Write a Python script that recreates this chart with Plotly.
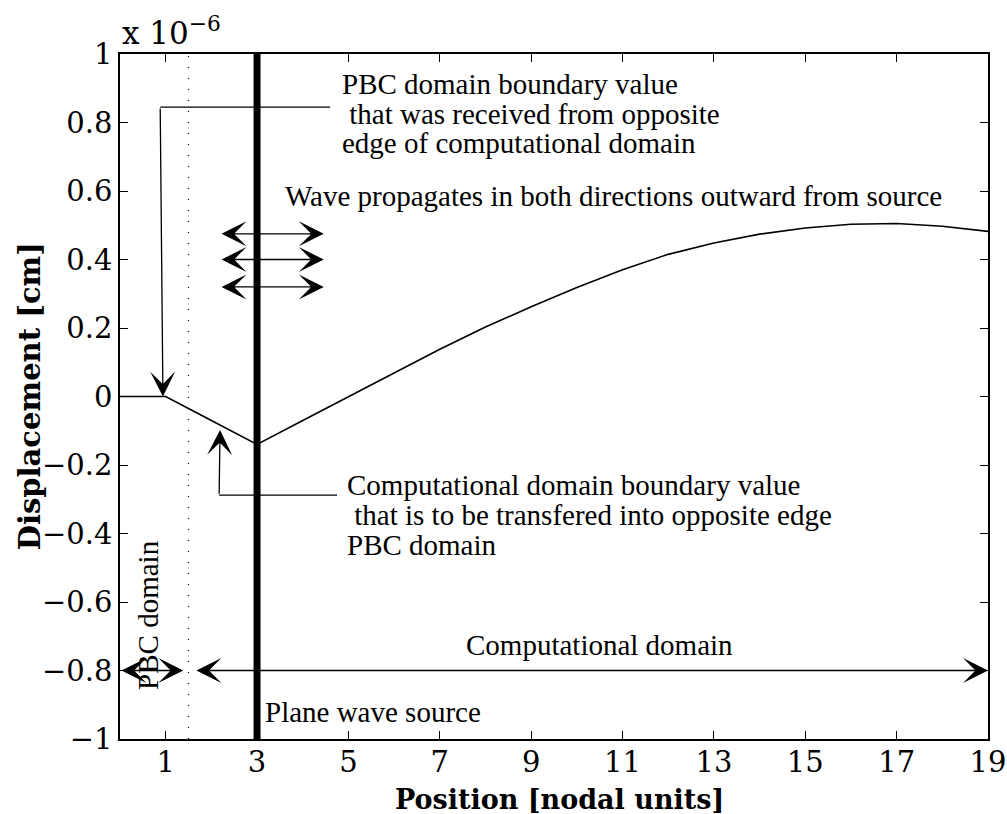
import plotly.graph_objects as go

# Nodal displacement (in units of 1e-6 cm)
position = list(range(0, 20))
displacement = [0.0, 0.0, -0.07, -0.14, -0.07, 0.0, 0.07, 0.138, 0.203, 0.262,
                0.318, 0.370, 0.415, 0.448, 0.474, 0.492, 0.503, 0.505, 0.497, 0.482]

x_ticks = [1, 3, 5, 7, 9, 11, 13, 15, 17, 19]
y_ticks = [-1, -0.8, -0.6, -0.4, -0.2, 0, 0.2, 0.4, 0.6, 0.8, 1]
y_ticktext = ["\u22121", "\u22120.8", "\u22120.6", "\u22120.4", "\u22120.2", "0",
              "0.2", "0.4", "0.6", "0.8", "1"]

source_x = 3
pbc_boundary_x = 1.5
wave_arrow_y = [0.475, 0.40, 0.32]
wave_arrow_span = [2.19, 4.46]

SERIF = "Liberation Serif, Times New Roman, serif"
WIDE_SERIF = "DejaVu Serif, serif"
TXT = dict(family=SERIF, size=29, color="black")

fig = go.Figure()

# displacement curve
fig.add_trace(go.Scatter(x=position, y=displacement, mode="lines",
                         line=dict(color="black", width=1.6), showlegend=False))
# plane wave source
fig.add_trace(go.Scatter(x=[source_x, source_x], y=[-1, 1], mode="lines",
                         line=dict(color="black", width=7), showlegend=False))
# PBC / computational domain boundary
fig.add_trace(go.Scatter(x=[pbc_boundary_x, pbc_boundary_x], y=[-1, 1], mode="lines",
                         line=dict(color="black", width=1.2, dash="1px,10px"),
                         showlegend=False))
# leader lines for the callouts
fig.add_trace(go.Scatter(x=[0.88, 4.6], y=[0.845, 0.845], mode="lines",
                         line=dict(color="black", width=1.3), showlegend=False))
fig.add_trace(go.Scatter(x=[2.17, 4.75], y=[-0.288, -0.288], mode="lines",
                         line=dict(color="black", width=1.3), showlegend=False))

annotations = []
HEAD = 3.2


def arrow(x0, y0, x1, y1, both=False):
    a = dict(x=x1, y=y1, ax=x0, ay=y0, xref="x", yref="y", axref="x", ayref="y",
             text="", showarrow=True, arrowhead=3, arrowsize=HEAD, arrowwidth=1.3,
             arrowcolor="black", standoff=0, startstandoff=0)
    if both:
        a.update(arrowside="end+start", startarrowhead=3, startarrowsize=HEAD)
    annotations.append(a)


arrow(0.88, 0.845, 0.94, 0.0)
arrow(2.17, -0.288, 2.19, -0.098)
for yy in wave_arrow_y:
    arrow(wave_arrow_span[0], yy, wave_arrow_span[1], yy, both=True)
arrow(0.0, -0.8, 1.385, -0.8, both=True)
arrow(1.64, -0.8, 19.0, -0.8, both=True)


def label(x, y, text, anchor="left", angle=0, font=TXT):
    annotations.append(dict(x=x, y=y, xref="x", yref="y", text=text, showarrow=False,
                            xanchor=anchor, yanchor="middle", textangle=angle,
                            font=font))


label(4.81, 0.913, "PBC domain boundary value")
label(4.81, 0.826, "\u00a0that was received from opposite")
label(4.81, 0.739, "edge of computational domain")
label(3.57, 0.585, "Wave propagates in both directions outward from source")
label(4.92, -0.259, "Computational domain boundary value")
label(4.92, -0.346, "\u00a0that is to be transfered into opposite edge")
label(4.92, -0.433, "PBC domain")
label(10.5, -0.726, "Computational domain", anchor="center")
label(0.61, -0.638, "PBC domain", anchor="center", angle=-90)
label(3.13, -0.921, "Plane wave source")

# exponent marker above the y axis
annotations.append(dict(x=0.0, y=1.0, xref="paper", yref="paper",
                        text="x 10<sup>\u22126</sup>", showarrow=False,
                        xanchor="left", yanchor="bottom", yshift=1,
                        font=dict(family=WIDE_SERIF, size=31, color="black")))
# axis titles
annotations.append(dict(x=-0.104, y=0.5, xref="paper", yref="paper",
                        text="<b>Displacement [cm]</b>", showarrow=False, textangle=-90,
                        xanchor="center", yanchor="middle",
                        font=dict(family=WIDE_SERIF, size=29, color="black")))
annotations.append(dict(x=0.506, y=-0.089, xref="paper", yref="paper",
                        text="<b>Position [nodal units]</b>", showarrow=False,
                        xanchor="center", yanchor="middle",
                        font=dict(family=WIDE_SERIF, size=27, color="black")))

axis_common = dict(showgrid=False, zeroline=False, showline=True, linecolor="black",
                   linewidth=1.6, mirror="ticks", ticks="inside", ticklen=8,
                   tickwidth=1.3, tickcolor="black", automargin=False,
                   ticklabeloverflow="allow",
                   tickfont=dict(family=WIDE_SERIF, size=29, color="black"))

fig.update_layout(
    width=1007, height=814, autosize=False,
    margin=dict(l=120, r=19, t=54, b=75),
    paper_bgcolor="white", plot_bgcolor="white",
    xaxis=dict(range=[0, 19], tickvals=x_ticks, ticklabelstandoff=-4, **axis_common),
    yaxis=dict(range=[-1, 1], tickvals=y_ticks, ticktext=y_ticktext, **axis_common),
    annotations=annotations,
    showlegend=False,
)

fig.write_html("out.html")
